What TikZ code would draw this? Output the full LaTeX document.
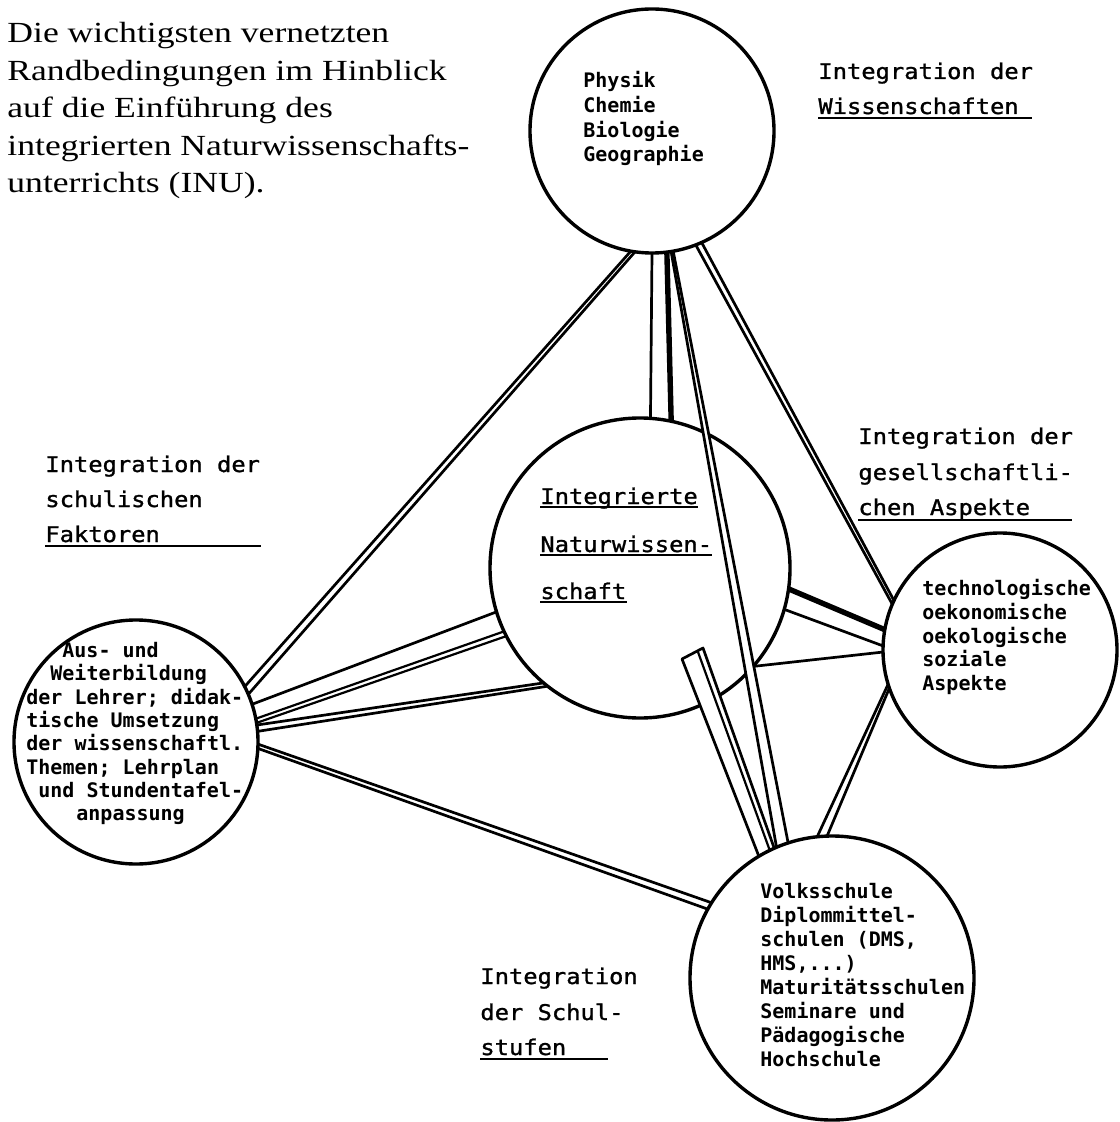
\documentclass[tikz,border=0pt]{standalone}
\usepackage{fontspec}
\usetikzlibrary{calc}
\newfontfamily\titlefont[FakeStretch=1.22]{Liberation Serif}
\newfontfamily\labfont[FakeStretch=1.1,FakeBold=1.2]{DejaVu Sans Mono}
\newfontfamily\boxfont{DejaVu Sans Mono}
\pgfdeclarelayer{back}
\pgfdeclarelayer{front}
\pgfsetlayers{back,main,front}
\begin{document}
\begin{tikzpicture}[x=0.5pt,y=-0.5pt,
  circ/.style={circle,draw,line width=1.7pt,fill=white,inner sep=0pt,outer sep=0pt},
  ln/.style={line width=1.35pt},
  dbl/.style={line width=1.1pt},
  heavy/.style={line width=2.7pt},
  uline/.style={line width=1.2pt},
  boxtxt/.style={anchor=base west,inner sep=0pt,font=\boxfont\bfseries\fontsize{10}{12}\selectfont},
  labtxt/.style={anchor=base west,inner sep=0pt,font=\labfont\fontsize{10.8}{13}\selectfont},
  ttl/.style={anchor=base west,inner sep=0pt,font=\titlefont\fontsize{14.6}{18}\selectfont},
]
\useasboundingbox (0,0) rectangle (1119,1122);

% central circle below the crossing connectors
\begin{pgfonlayer}{back}
\node[circ,minimum size=150pt] (C) at (640,568) {};
\end{pgfonlayer}

% outer circles and all texts on top
\begin{pgfonlayer}{front}
\node[circ,minimum size=122pt] (T) at (652,131) {};
\node[circ,minimum size=122pt] (L) at (136,742) {};
\node[circ,minimum size=117pt] (R) at (1000,650) {};
\node[circ,minimum size=142pt] (B) at (832,978) {};

% title
\node[ttl] (h1) at (7,43) {Die wichtigsten vernetzten};
\node[ttl] (h2) at (7,80.5) {Randbedingungen im Hinblick};
\node[ttl] (h3) at (7,118) {auf die Einführung des};
\node[ttl] (h4) at (7,155.5) {integrierten Naturwissenschafts-};
\node[ttl] (h5) at (7,193) {unterrichts (INU).};

% labels
\node[labtxt] (w1) at (818,79) {Integration der};
\node[labtxt] (w2) at (818,114) {Wissenschaften};
\draw[uline] ($(w2.base west)+(0,4)$) -- ++(214,0);

\node[labtxt] (g1) at (858,444) {Integration der};
\node[labtxt] (g2) at (858,480) {gesellschaftli-};
\node[labtxt] (g3) at (858,515) {chen Aspekte};
\draw[uline] ($(g3.base west)+(0,5)$) -- ++(214,0);

\node[labtxt] (s1) at (45,472) {Integration der};
\node[labtxt] (s2) at (45,507) {schulischen};
\node[labtxt] (s3) at (45,542) {Faktoren};
\draw[uline] ($(s3.base west)+(0,4)$) -- ++(216,0);

\node[labtxt] (u1) at (480,984) {Integration};
\node[labtxt] (u2) at (480,1020) {der Schul-};
\node[labtxt] (u3) at (480,1055) {stufen};
\draw[uline] ($(u3.base west)+(0,4)$) -- ++(128,0);

\node[labtxt] (n1) at (540,504) {Integrierte};
\node[labtxt] (n2) at (540,552) {Naturwissen-};
\node[labtxt] (n3) at (540,599) {schaft};
\draw[uline] ($(n1.base west)+(0,3)$) -- ($(n1.base east)+(0,3)$);
\draw[uline] ($(n2.base west)+(0,3)$) -- ($(n2.base east)+(0,3)$);
\draw[uline] ($(n3.base west)+(0,3)$) -- ($(n3.base east)+(0,3)$);

% top circle text
\node[boxtxt] (p1) at (583,88) {Physik};
\node[boxtxt] (p2) at (583,113) {Chemie};
\node[boxtxt] (p3) at (583,137.5) {Biologie};
\node[boxtxt] (p4) at (583,162) {Geographie};

% right circle text
\node[boxtxt] (r1) at (922,595) {technologische};
\node[boxtxt] (r2) at (922,619) {oekonomische};
\node[boxtxt] (r3) at (922,643) {oekologische};
\node[boxtxt] (r4) at (922,666.5) {soziale};
\node[boxtxt] (r5) at (922,690) {Aspekte};

% bottom circle text
\node[boxtxt] (b1) at (760,898) {Volksschule};
\node[boxtxt] (b2) at (760,922) {Diplommittel-};
\node[boxtxt] (b3) at (760,946) {schulen (DMS,};
\node[boxtxt] (b4) at (760,970) {HMS,...)};
\node[boxtxt] (b5) at (760,994) {Maturitätsschulen};
\node[boxtxt] (b6) at (760,1018) {Seminare und};
\node[boxtxt] (b7) at (760,1042) {Pädagogische};
\node[boxtxt] (b8) at (760,1066) {Hochschule};

% left circle text
\node[boxtxt] (a1) at (62,657) {Aus- und};
\node[boxtxt] (a2) at (50,680) {Weiterbildung};
\node[boxtxt] (a3) at (26,704) {der Lehrer; didak-};
\node[boxtxt] (a4) at (26,727) {tische Umsetzung};
\node[boxtxt] (a5) at (26,750) {der wissenschaftl.};
\node[boxtxt] (a6) at (26,774) {Themen; Lehrplan};
\node[boxtxt] (a7) at (38,797) {und Stundentafel-};
\node[boxtxt] (a8) at (76,820) {anpassung};
\end{pgfonlayer}

% ---- connectors (main layer) ----
% T - C strip
\draw[ln] (T.270.5) -- (C.86.2);
\draw[heavy] (T.277.5) -- (C.78.5);

% T - B wedge, crossing C
\fill[white] (T.279) -- (B.113) -- (B.108.5) -- (T.280.5) -- cycle;
\draw[ln] (T.279) -- (B.113);
\draw[ln] (T.280.5) -- (B.108.5);

% open tube from B into C
\coordinate (tubeA) at (682,659);
\coordinate (tubeB) at (703,648);
\coordinate (tubeC) at (698,652);
\fill[white] (B.121.4) -- (tubeA) -- (tubeB) -- (B.114.5) -- cycle;
\draw[ln,line join=round] (B.121.4) -- (tubeA) -- (tubeB) -- (B.114.5);
\draw[dbl] (tubeC) -- (B.116);

% C - R
\draw[ln] (C.319) -- (R.181);
\draw[heavy] (C.352) -- (R.170);
\draw[ln] (C.344.5) -- (R.178);

% T - R
\draw[ln] (T.291) -- (R.157);
\draw[ln] (T.294.5) -- (R.155);

% R - B
\draw[ln] (R.197) -- (B.96);
\draw[ln] (R.199.5) -- (B.92);

% L - C
\draw[ln] (L.18.5) -- (C.197);
\draw[dbl] (L.11.5) -- (C.205.5);
\draw[dbl] (L.9.5) -- (C.207.5);
\draw[ln] (L.8) -- (C.230);
\draw[ln] (L.5) -- (C.232.5);

% T - L
\draw[ln] (T.260) -- (L.27);
\draw[ln] (T.262) -- (L.23);

% L - B
\draw[ln] (L.359.5) -- (B.148);
\draw[ln] (L.357.5) -- (B.151);
\end{tikzpicture}
\end{document}
